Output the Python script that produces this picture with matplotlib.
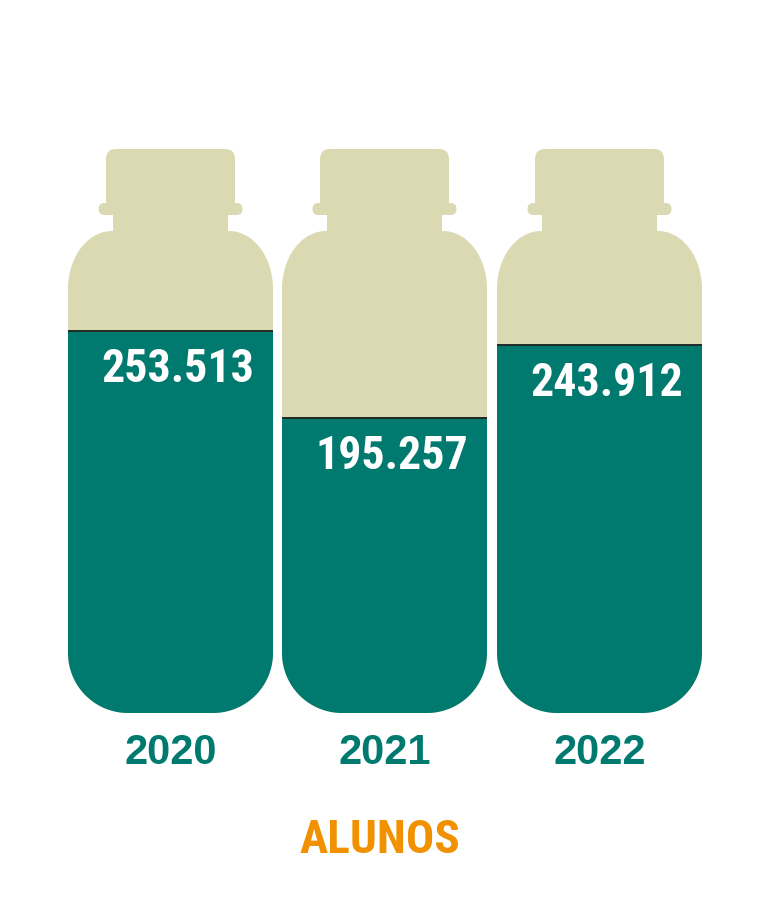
import numpy as np
import matplotlib
matplotlib.use('Agg')
import matplotlib.pyplot as plt
from matplotlib.path import Path
from matplotlib.patches import PathPatch, FancyBboxPatch

#----------data----------------------*
years = ['2020', '2021', '2022']
alunos = [253513, 195257, 243912]
labels = ['253.513', '195.257', '243.912']
title = 'ALUNOS'

TEAL = '#00796F'
BEIGE = '#DAD9B1'
ORANGE = '#F29100'
COND = ['Roboto Condensed', 'DejaVu Sans']

#----------layout (pixel coords)-----*
W, H = 770, 900
centers = [170.5, 384.5, 599.5]
half_w = 102.5
body_top, body_bot = 231, 713
units_per_px = 663.0   # value units per pixel of fill height


def body_path(cx):
    # rounded body: wide shoulder arcs on top, rounder base
    x0, x1 = cx - half_w, cx + half_w
    rtx, rty = 44, 58
    rb = 60
    pts = []
    t = np.linspace(0, np.pi / 2, 30)
    pts += list(zip(x0 + rtx - rtx * np.cos(t), body_top + rty - rty * np.sin(t)))
    pts += list(zip(x1 - rtx + rtx * np.sin(t), body_top + rty - rty * np.cos(t)))
    pts += list(zip(x1 - rb + rb * np.cos(t), body_bot - rb + rb * np.sin(t)))
    pts += list(zip(x0 + rb - rb * np.sin(t), body_bot - rb + rb * np.cos(t)))
    pts.append(pts[0])
    return Path(pts, closed=True)


fig = plt.figure(figsize=(W / 100, H / 100), dpi=100)
ax = fig.add_axes([0, 0, 1, 1])
ax.set_xlim(0, W)
ax.set_ylim(H, 0)
ax.axis('off')

for i, cx in enumerate(centers):
    # cap
    ax.add_patch(FancyBboxPatch((cx - 64.5 + 10, 149 + 10), 129 - 20, 62 - 20,
                                boxstyle='round,pad=10', fc=BEIGE, ec='none'))
    # lip
    ax.add_patch(FancyBboxPatch((cx - 72 + 6, 203 + 6), 144 - 12, 0,
                                boxstyle='round,pad=6', fc=BEIGE, ec='none'))
    # neck
    ax.add_patch(plt.Rectangle((cx - 57.5, 212), 115, 24, fc=BEIGE, ec='none'))
    # body
    body = PathPatch(body_path(cx), fc=BEIGE, ec='none')
    ax.add_patch(body)

    # fill level
    h = alunos[i] / units_per_px
    bars = ax.bar(cx, -h, width=2 * half_w + 4, bottom=body_bot, color=TEAL,
                  edgecolor='none')
    for b in bars:
        b.set_clip_path(body)
    ln, = ax.plot([cx - half_w - 2, cx + half_w + 2], [body_bot - h, body_bot - h],
                  color='#1f2a26', lw=1.4)
    ln.set_clip_path(body)

    ax.text(cx + 7, body_bot - h + 38, labels[i], color='white', fontsize=33,
            fontweight='bold', family=COND, ha='center', va='center')
    ax.text(cx, 753, years[i], color=TEAL, fontsize=30, fontweight='bold',
            family=['Liberation Sans', 'DejaVu Sans'], ha='center', va='center')

ax.text(380, 840, title, color=ORANGE, fontsize=34, fontweight='bold',
        family=COND, ha='center', va='center')

fig.savefig('out.png', dpi=100, facecolor='white')
